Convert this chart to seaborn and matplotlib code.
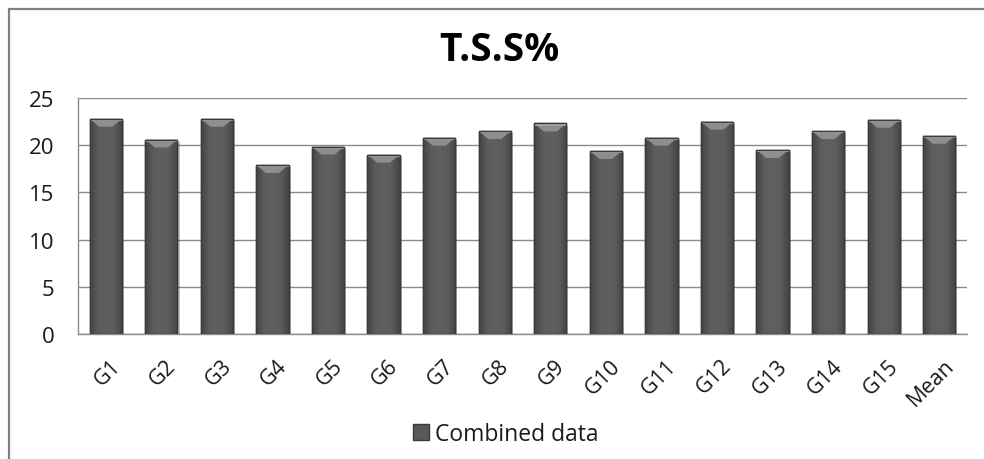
import numpy as np
import pandas as pd
import matplotlib
matplotlib.use("Agg")
import matplotlib.pyplot as plt
from matplotlib.patches import Polygon, Patch
from matplotlib.lines import Line2D
from matplotlib.colors import LinearSegmentedColormap
import matplotlib.transforms as mtransforms
import matplotlib.patheffects as pe
import seaborn as sns

# T.S.S% per genotype, plus the overall mean
categories = ["G1", "G2", "G3", "G4", "G5", "G6", "G7", "G8", "G9", "G10",
              "G11", "G12", "G13", "G14", "G15", "Mean"]
tss_values = [22.8, 20.6, 22.8, 17.9, 19.85, 19.0, 20.8, 21.5, 22.3, 19.4,
              20.8, 22.5, 19.5, 21.5, 22.7, 21.0]
y_ticks = [0, 5, 10, 15, 20, 25]
series_label = "Combined data"
chart_title = "T.S.S%"

df = pd.DataFrame({"genotype": categories, "tss": tss_values})

sns.set_theme(style="white")
plt.rcParams["font.family"] = ["Open Sans", "DejaVu Sans"]

BAR = "#595959"
GRID = "#8a8a8a"

fig = plt.figure(figsize=(9.84, 4.6), dpi=100)
ax = fig.add_axes([78 / 984, 1 - 335 / 460, (967 - 78) / 984, (335 - 99) / 460])

sns.barplot(data=df, x="genotype", y="tss", color=BAR, saturation=1,
            width=0.58, edgecolor="#3a3a3a", linewidth=1.0, ax=ax, zorder=3)

ax.set_xlim(-0.5, len(categories) - 0.5)
ax.set_ylim(0, 25)

# shaded body, bevelled top and soft shadow on every bar
shade = LinearSegmentedColormap.from_list(
    "shade", ["#454545", "#5c5c5c", "#606060", "#5c5c5c", "#454545"])
grad = np.linspace(0, 1, 64).reshape(1, -1)
bevel_h = 25 * 8 / 236
for bar in list(ax.patches):
    bar.set_path_effects([pe.SimplePatchShadow(offset=(1.5, -1.5), alpha=0.25),
                          pe.Normal()])
    x0, w, h = bar.get_x(), bar.get_width(), bar.get_height()
    im = ax.imshow(grad, extent=(x0, x0 + w, 0, h), aspect="auto", cmap=shade,
                   zorder=3.1, interpolation="bicubic")
    im.set_clip_path(bar)
    inset = w * 0.3
    ax.add_patch(Polygon([(x0, h), (x0 + w, h), (x0 + w - inset, h - bevel_h),
                          (x0 + inset, h - bevel_h)], closed=True,
                         facecolor="#8e8e8e", edgecolor="none", zorder=3.2))
    ax.add_patch(Polygon([(x0, h), (x0 + w, h), (x0 + w, h - bevel_h * 0.3),
                          (x0, h - bevel_h * 0.3)], closed=True,
                         facecolor="#a8a8a8", edgecolor="none", zorder=3.3))
    ax.add_patch(Polygon([(x0, h), (x0 + w, h), (x0 + w, 0), (x0, 0)],
                         closed=True, facecolor="none", edgecolor="#3a3a3a",
                         linewidth=1.0, zorder=3.4))
ax.set_xlim(-0.5, len(categories) - 0.5)
ax.set_ylim(0, 25)

ax.set_yticks(y_ticks)
ax.yaxis.grid(True, color=GRID, linewidth=1.0)
ax.set_axisbelow(True)
ax.set_xlabel("")
ax.set_ylabel("")
for side in ("top", "right"):
    ax.spines[side].set_visible(False)
for side in ("left", "bottom"):
    ax.spines[side].set_color(GRID)
    ax.spines[side].set_linewidth(1.0)

ax.tick_params(axis="y", length=0, pad=17, labelsize=16, labelcolor="#1a1a1a")
ax.tick_params(axis="x", length=0, pad=15, labelsize=15.5, labelcolor="#1a1a1a")
plt.setp(ax.get_xticklabels(), rotation=45, ha="right", rotation_mode="anchor")
for lbl in ax.get_xticklabels():
    lbl.set_transform(lbl.get_transform() +
                      mtransforms.ScaledTranslation(4 / 100, 0, fig.dpi_scale_trans))

fig.text(0.508, 0.891, chart_title, ha="center", va="center",
         fontsize=28, fontweight="bold", color="#000000")

handle = Patch(facecolor=BAR, edgecolor="#3a3a3a")
fig.legend([handle], [series_label], loc="center", bbox_to_anchor=(0.514, 0.054),
           frameon=False, fontsize=16.5, handlelength=0.7, handleheight=0.7,
           handletextpad=0.3, labelcolor="#1a1a1a")

# outer chart frame (left and top edges)
fig.add_artist(Line2D([8.5 / 984, 8.5 / 984], [0, 1 - 9.5 / 460], color="#808080",
                      linewidth=1.6, transform=fig.transFigure))
fig.add_artist(Line2D([8.5 / 984, 1], [1 - 9.5 / 460, 1 - 9.5 / 460], color="#808080",
                      linewidth=1.6, transform=fig.transFigure))

fig.savefig("out.png", dpi=100, facecolor="white")
